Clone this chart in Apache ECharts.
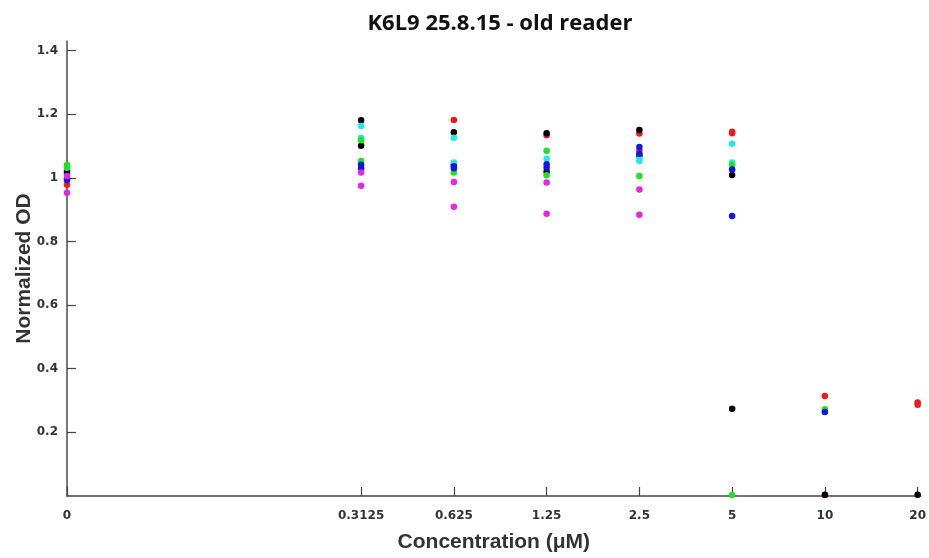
<!DOCTYPE html>
<html>
<head>
<meta charset="utf-8">
<script src="https://cdn.jsdelivr.net/npm/echarts@6/dist/echarts.min.js"></script>
<style>html,body{margin:0;padding:0;background:#fff;}#chart{width:929px;height:558px;}</style>
</head>
<body>
<div id="chart"></div>
<script>
// Concentrations (µM) and tick labels
var concentrations = [0, 0.3125, 0.625, 1.25, 2.5, 5, 10, 20];
var tickLabels = ['0', '0.3125', '0.625', '1.25', '2.5', '5', '10', '20'];
// concentration used to place the "0" column on the log-2 axis
var zeroPlotConc = 0.0347;

// Normalized OD, two replicates per colour (null = not visible)
var red1     = [0.978, null,  1.182, 1.134, 1.139, 1.140, 0.314, 0.294];
var red2     = [null,  null,  null,  null,  1.085, 1.145, 0.003, 0.287];
var black1   = [1.022, 1.181, 1.143, 1.140, 1.150, 1.009, 0.004, 0.004];
var black2   = [1.015, 1.101, 1.041, 1.019, 1.069, 0.274, null,  null];
var cyan1    = [1.032, 1.163, 1.126, 1.060, 1.060, 1.107, 0.266, null];
var cyan2    = [null,  1.126, 1.048, null,  1.053, 1.048, null,  null];
var green1   = [1.040, 1.118, 1.017, 1.085, 1.006, 1.041, 0.273, null];
var green2   = [1.035, 1.053, null,  1.008, null,  0.003, null,  null];
var blue1    = [0.998, 1.041, 1.030, 1.043, 1.097, 1.026, 0.264, null];
var blue2    = [0.993, 1.030, 1.036, 1.032, 1.076, 0.880, null,  null];
var magenta1 = [1.006, 1.017, 0.987, 0.985, 0.963, null,  null,  null];
var magenta2 = [0.953, 0.975, 0.909, 0.887, 0.884, null,  null,  null];

var seriesDefs = [
  {data: red1, color: '#f01a1a'}, {data: red2, color: '#f01a1a'},
  {data: black1, color: '#000000'}, {data: black2, color: '#000000'},
  {data: cyan1, color: '#22e8e8'}, {data: cyan2, color: '#22e8e8'},
  {data: green1, color: '#22e022'}, {data: green2, color: '#22e022'},
  {data: blue1, color: '#1414e6'}, {data: blue2, color: '#1414e6'},
  {data: magenta1, color: '#e626e6'}, {data: magenta2, color: '#e626e6'}
];

function xPos(c) { return Math.log2(c === 0 ? zeroPlotConc : c); }
var tickPositions = concentrations.map(xPos);

function labelFor(v) {
  var best = 0, bd = Infinity;
  for (var i = 0; i < tickPositions.length; i++) {
    var d = Math.abs(tickPositions[i] - v);
    if (d < bd) { bd = d; best = i; }
  }
  return bd < 1e-6 ? tickLabels[best] : '';
}

var yTicks = [0.2, 0.4, 0.6, 0.8, 1.0, 1.2, 1.4];

var series = seriesDefs.map(function (s) {
  var pts = [];
  s.data.forEach(function (v, i) {
    if (v !== null) pts.push([tickPositions[i], v]);
  });
  return {
    type: 'scatter',
    data: pts,
    symbol: 'circle',
    symbolSize: 6.5,
    itemStyle: {color: s.color, opacity: 1},
    clip: true,
    silent: true
  };
});

var chart = echarts.init(document.getElementById('chart'), null, {renderer: 'canvas'});
chart.setOption({
  animation: false,
  backgroundColor: '#ffffff',
  title: {
    text: 'K6L9 25.8.15 - old reader',
    left: 495,
    top: 8,
    textAlign: 'center',
    textStyle: {fontFamily: 'Open Sans', fontWeight: 'bold', fontSize: 22, color: '#111'}
  },
  grid: {left: 67, right: 4, top: 41, bottom: 62, containLabel: false},
  xAxis: {
    type: 'value',
    min: xPos(0),
    max: Math.log2(20) + 0.032,
    name: 'Concentration (\u03BCM)',
    nameLocation: 'middle',
    nameGap: 36,
    nameMoveOverlap: false,
    nameTextStyle: {fontFamily: 'Liberation Sans', fontWeight: 'bold', fontSize: 21, color: '#333'},
    axisLine: {show: true, onZero: false, lineStyle: {color: '#444', width: 1.6}},
    axisTick: {show: true, inside: true, length: 9, customValues: tickPositions, lineStyle: {color: '#444', width: 1.2}},
    axisLabel: {
      customValues: tickPositions,
      formatter: function (v) { return labelFor(v); },
      margin: 14,
      fontFamily: 'DejaVu Sans', fontWeight: 'bold', fontSize: 12, color: '#333'
    },
    splitLine: {show: false}
  },
  yAxis: {
    type: 'value',
    min: 0,
    max: 1.43,
    name: 'Normalized OD',
    nameLocation: 'middle',
    nameGap: 32,
    nameRotate: 90,
    nameMoveOverlap: false,
    nameTextStyle: {fontFamily: 'Liberation Sans', fontWeight: 'bold', fontSize: 21, color: '#333'},
    axisLine: {show: true, onZero: false, lineStyle: {color: '#555', width: 1.6}},
    axisTick: {show: true, inside: true, length: 9, customValues: yTicks, lineStyle: {color: '#444', width: 1.2}},
    axisLabel: {
      customValues: yTicks,
      formatter: function (v) { return String(+v.toFixed(1)); },
      margin: 9,
      fontFamily: 'DejaVu Sans', fontWeight: 'bold', fontSize: 12, color: '#333'
    },
    splitLine: {show: false}
  },
  series: series
});
</script>
</body>
</html>
